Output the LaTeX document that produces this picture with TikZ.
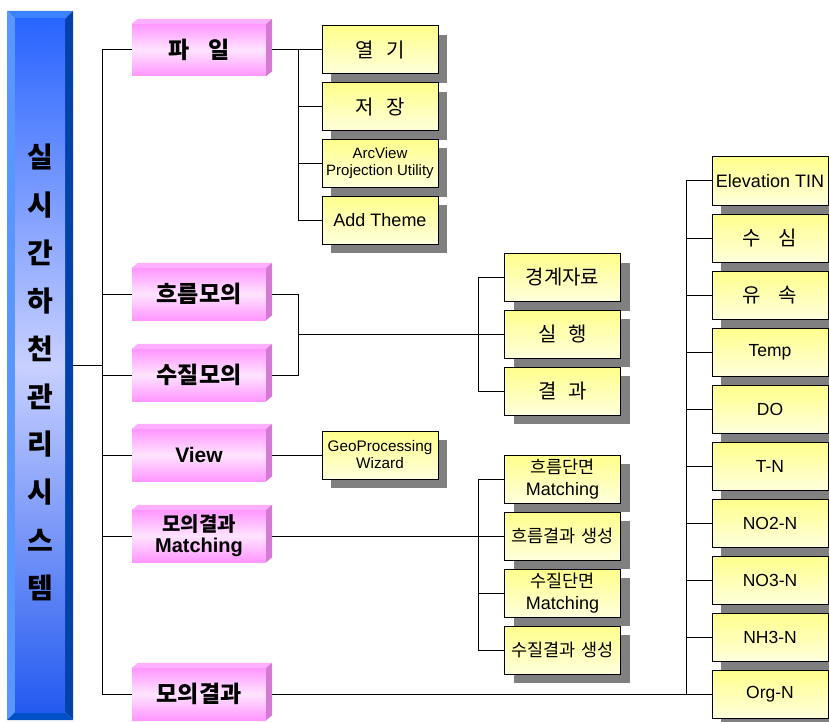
\documentclass[tikz,border=0pt]{standalone}
\usepackage{fontspec}
\setmainfont{Liberation Sans}
\newfontfamily\kr{Noto Sans CJK KR}
\usetikzlibrary{shadows,calc,backgrounds}
\definecolor{pinkA}{RGB}{255,150,255}
\definecolor{pinkB}{RGB}{255,228,255}
\definecolor{pinkTop}{RGB}{255,175,255}
\definecolor{pinkSide}{RGB}{215,120,215}
\definecolor{yelA}{RGB}{255,255,140}
\definecolor{yelB}{RGB}{255,255,220}
\definecolor{shd}{RGB}{128,128,128}
\definecolor{barA}{RGB}{40,100,255}
\definecolor{barB}{RGB}{200,208,255}
\definecolor{barC}{RGB}{35,90,240}
\definecolor{bevL}{RGB}{90,150,255}
\definecolor{bevT}{RGB}{60,130,255}
\definecolor{bevR}{RGB}{0,65,170}
\definecolor{bevB}{RGB}{0,80,200}
\begin{document}
\begin{tikzpicture}[x=1pt,y=-1pt,
  conn/.style={line width=1pt,draw=black},
  ybox/.style={draw=black,line width=1pt,top color=yelA,bottom color=yelB,
    minimum width=116pt,minimum height=48pt,inner sep=1pt,align=center,
    drop shadow={shadow xshift=9pt,shadow yshift=-9pt,fill=shd,opacity=1},
    font=\fontsize{17.5}{19}\selectfont},
  ykr/.style={ybox,font=\kr\fontsize{20}{22}\selectfont},
  ykrs/.style={ybox,font=\kr\fontsize{17.5}{19}\selectfont},
  ysmall/.style={ybox,font=\fontsize{15}{17}\selectfont},
  ymatch/.style={ybox,font=\fontsize{18}{22}\selectfont},
  pbox/.style={top color=pinkA,bottom color=pinkA,middle color=pinkB,
    minimum width=134pt,minimum height=52pt,inner sep=0pt,align=center,
    font=\bfseries\fontsize{21}{21}\selectfont},
  pkr/.style={pbox,font=\kr\bfseries\fontsize{23}{25}\selectfont},
]
\useasboundingbox (0,0) rectangle (829,722);

% left bar
\node[minimum width=66pt,minimum height=709pt,inner sep=0pt] (bar) at (40,365.5) {};
\fill[bevT] (7,11) -- (73,11) -- (65,19) -- (15,19) -- cycle;
\fill[bevL] (7,11) -- (15,19) -- (15,712) -- (7,720) -- cycle;
\fill[bevR] (73,11) -- (73,720) -- (65,712) -- (65,19) -- cycle;
\fill[bevB] (7,720) -- (15,712) -- (65,712) -- (73,720) -- cycle;
\shade[top color=barA,bottom color=barC,middle color=barB] (15,19) rectangle (65,712);
\foreach \c [count=\i from 0] in {실,시,간,하,천,관,리,시,스,템}
  \node[font=\kr\bfseries\fontsize{28}{30}\selectfont,inner sep=0pt] (t\i) at (40,157+47.9*\i) {\c};

% pink boxes
\node[pkr] (p1) at (199,50) {파\hspace{0.8em}일};
\node[pkr] (p2) at (199,294) {흐름모의};
\node[pkr] (p3) at (199,375) {수질모의};
\node[pbox] (p4) at (199,455) {View};
\node[pbox,font=\bfseries\fontsize{20}{21}\selectfont] (p5) at (199,536) {{\kr 모의결과}\\Matching};
\node[pkr] (p6) at (199,694) {모의결과};
\foreach \n in {p1,p2,p3,p4,p5,p6}{
  \fill[pinkTop] (\n.north west) -- ++(6,-5) -- ($(\n.north east)+(6,-5)$) -- (\n.north east) -- cycle;
  \fill[pinkSide] (\n.north east) -- ++(6,-5) -- ($(\n.south east)+(6,-5)$) -- (\n.south east) -- cycle;
}

% file group
\node[ykr] (f1) at (380,50) {열\hspace{0.65em}기};
\node[ykr] (f2) at (380,107) {저\hspace{0.65em}장};
\node[ysmall] (f3) at (380,163.5) {ArcView\\Projection Utility};
\node[ybox,font=\fontsize{18}{20}\selectfont] (f4) at (380,220) {Add Theme};

% run group
\node[ykr] (r1) at (562.5,277.5) {경계자료};
\node[ykr] (r2) at (562.5,334) {실\hspace{0.6em}행};
\node[ykr] (r3) at (562.5,391) {결\hspace{0.6em}과};

% view
\node[ysmall,font=\fontsize{15.3}{17}\selectfont] (g1) at (380,455) {GeoProcessing\\Wizard};

% matching group
\node[ymatch] (m1) at (562.5,479) {{\kr\fontsize{17.5}{19}\selectfont 흐름단면}\\Matching};
\node[ykrs] (m2) at (562.5,536) {흐름결과\hspace{0.3em}생성};
\node[ymatch] (m3) at (562.5,593) {{\kr\fontsize{17.5}{19}\selectfont 수질단면}\\Matching};
\node[ykrs] (m4) at (562.5,650) {수질결과\hspace{0.3em}생성};

% right column
\node[ybox,font=\fontsize{18}{20}\selectfont] (c1) at (770,181) {Elevation TIN};
\node[ykr] (c2) at (770,238) {수\hspace{0.9em}심};
\node[ykr] (c3) at (770,295) {유\hspace{0.9em}속};
\node[ybox] (c4) at (770,352) {Temp};
\node[ybox] (c5) at (770,409) {DO};
\node[ybox] (c6) at (770,466) {T-N};
\node[ybox] (c7) at (770,523) {NO2-N};
\node[ybox] (c8) at (770,580) {NO3-N};
\node[ybox] (c9) at (770,637) {NH3-N};
\node[ybox] (c10) at (770,694) {Org-N};

% connectors
\begin{scope}[on background layer]
  \coordinate (tr) at (102,365.5);
  \draw[conn] (bar.east) -- (tr);
  \draw[conn] (p1.west) -- (p1.west -| tr) -- (p6.west -| tr) -- (p6.west);
  \foreach \n in {p2,p3,p4,p5} \draw[conn] (\n.west -| tr) -- (\n.west);
  % file
  \coordinate (fb) at (298,50);
  \draw[conn] (p1.east) -- (f1.west);
  \draw[conn] (f1.west -| fb) -- (f4.west -| fb) -- (f4.west);
  \foreach \n in {f2,f3} \draw[conn] (\n.west -| fb) -- (\n.west);
  % run
  \coordinate (rb) at (478,334);
  \draw[conn] (p2.east) -- (p2.east -| fb) -- (p3.east -| fb) -- (p3.east);
  \draw[conn] (r2.west -| fb) -- (r2.west);
  \draw[conn] (r1.west) -- (r1.west -| rb) -- (r3.west -| rb) -- (r3.west);
  % view
  \draw[conn] (p4.east) -- (g1.west);
  % matching
  \draw[conn] (p5.east) -- (m2.west);
  \draw[conn] (m1.west) -- (m1.west -| rb) -- (m4.west -| rb) -- (m4.west);
  \draw[conn] (m3.west -| rb) -- (m3.west);
  % result
  \coordinate (cb) at (686,400);
  \draw[conn] (p6.east) -- (c10.west);
  \draw[conn] (c1.west) -- (c1.west -| cb) -- (c10.west -| cb);
  \foreach \n in {c2,c3,c4,c5,c6,c7,c8,c9} \draw[conn] (\n.west -| cb) -- (\n.west);
\end{scope}
\end{tikzpicture}
\end{document}
